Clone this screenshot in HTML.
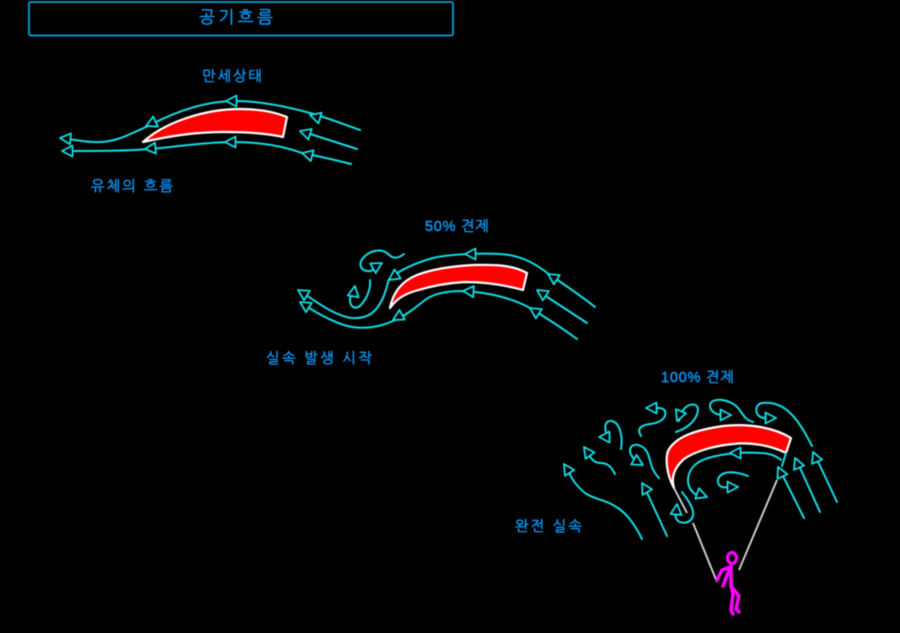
<!DOCTYPE html>
<html><head><meta charset="utf-8"><style>
html,body{margin:0;padding:0;background:#000;width:900px;height:633px;overflow:hidden}
svg{display:block;filter:blur(.4px)}
text{font-family:"Liberation Sans","NanumGothic","Noto Sans CJK KR",sans-serif;fill:#0c9cff;stroke:#0c9cff;stroke-width:.4px;font-size:14.5px}
.s{fill:none;stroke:#14dce4;stroke-width:2;stroke-linecap:round;stroke-linejoin:round}
.w{fill:#f00;stroke:#fff;stroke-width:2.2;stroke-linejoin:round}
.g{fill:none;stroke:#d8d8d8;stroke-width:1.8}
.p{fill:none;stroke:#f0f;stroke-width:3.5;stroke-linecap:round;stroke-linejoin:round}
.a{fill:#000;stroke:#14dce4;stroke-width:1.8;stroke-linejoin:round}
</style></head><body>
<svg width="900" height="633" viewBox="0 0 900 633" xmlns="http://www.w3.org/2000/svg">
<defs><polygon id="a" class="a" points="0,0 -10.5,-5.5 -10.5,5.5"/></defs>
<rect x="29" y="2" width="424" height="33.5" rx="2" fill="none" stroke="#0aa0d8" stroke-width="1.8"/>
<text x="199" y="23" textLength="74" lengthAdjust="spacing" style="font-size:17px">공기흐름</text>
<text x="202" y="81" textLength="60" lengthAdjust="spacing">만세상태</text>
<text x="91" y="191" textLength="82" lengthAdjust="spacing">유체의 흐름</text>
<text x="425" y="231" textLength="64" lengthAdjust="spacing">50% 견제</text>
<text x="266" y="363" textLength="106" lengthAdjust="spacing">실속 발생 시작</text>
<text x="661" y="382" textLength="73" lengthAdjust="spacing">100% 견제</text>
<text x="515" y="531" textLength="67" lengthAdjust="spacing">완전 실속</text>

<!-- diagram 1 -->
<path class="w" d="M143,142 C165,122 205,109 240,109 C258,109 275,112 287,117 L283,137 C265,133 245,132 225,132 C195,132 170,136 143,142 Z"/>
<path class="s" d="M360,130 C340,123 325,117 310,113 C285,106 260,101 235,101 C205,101 175,112 150,125 C125,137 112,143 95,142 C85,142 75,140 63,138"/>
<path class="s" d="M351,164 C335,160 318,156 302,153 C280,145 255,142 233,142 C205,142 175,147 150,149 C125,151 95,151 64,151"/>
<path class="s" d="M357,149 L301,131"/>
<use href="#a" transform="translate(300,131) rotate(198)"/>
<use href="#a" transform="translate(310,115) rotate(197)"/>
<use href="#a" transform="translate(302,153) rotate(195)"/>
<use href="#a" transform="translate(226,101) rotate(180)"/>
<use href="#a" transform="translate(225,142) rotate(180)"/>
<use href="#a" transform="translate(146,126) rotate(155)"/>
<use href="#a" transform="translate(145,149) rotate(175)"/>
<use href="#a" transform="translate(60,138) rotate(185)"/>
<use href="#a" transform="translate(62,151) rotate(180)"/>

<!-- diagram 2 -->
<path class="w" d="M390,308 C393,292 402,281 417,275 C435,268 465,264 490,265 C505,265 518,268 527,273 L523,290 C505,285 485,282 465,282 C445,283 428,287 415,291 C402,295 396,300 390,308 Z"/>
<path class="s" d="M595,307 C580,295 565,285 550,275 C535,263 520,255 500,254 C480,253 450,254 433,258 C415,263 400,270 389,279 C387,285 386,292 382,300 C376,312 368,319 352,318 C335,316 315,301 300,291"/>
<path class="s" d="M577,339 C562,328 545,317 530,308 C510,297 485,292 463,291 C445,291 433,294 425,300 C415,308 405,316 393,321 C380,327 365,329 352,327 C335,324 315,312 301,303"/>
<path class="s" d="M587,323 L538,291"/>
<path class="s" d="M404,254 C396,260 392,258 387,253 C380,248 370,251 364,257 C358,263 360,270 367,271 C372,272 376,268 381,264"/>
<path class="s" d="M370,280 C371,290 366,300 360,306 C354,310 350,306 350,300 C350,295 352,291 354,287"/>
<use href="#a" transform="translate(548,274) rotate(213)"/>
<use href="#a" transform="translate(537,290) rotate(213)"/>
<use href="#a" transform="translate(530,308) rotate(213)"/>
<use href="#a" transform="translate(465,254) rotate(180)"/>
<use href="#a" transform="translate(463,291) rotate(183)"/>
<use href="#a" transform="translate(389,280) rotate(145)"/>
<use href="#a" transform="translate(393,320) rotate(150)"/>
<use href="#a" transform="translate(298,290) rotate(212)"/>
<use href="#a" transform="translate(300,302) rotate(212)"/>
<use href="#a" transform="translate(382,263) rotate(-30)"/>
<use href="#a" transform="translate(355,286) rotate(-80)"/>

<!-- diagram 3 -->
<path class="w" d="M674,488 C667,475 665,460 668,451 C675,437 695,430 723,426 C750,423 775,428 791,438 L786,453 C770,445 750,442 733,444 C712,446 694,452 684,459 C674,468 671,478 674,488 Z"/>
<path class="g" d="M674,488 L687,513 M693,523 L717,582 M777,480 L739,570"/>
<path class="s" d="M786,453 L782,466"/>
<path class="s" d="M642,539 C635,525 628,515 618,508 C605,499 595,500 585,493 C575,485 570,476 566,466"/>
<path class="s" d="M667,536 L643,484"/>
<path class="s" d="M615,474 C611,466 607,463 600,463 C592,463 589,455 586,448"/>
<path class="s" d="M621,449 C623,437 620,423 612,421 C606,420 604,426 606,432"/>
<path class="s" d="M641,436 C636,428 642,425 650,424 C660,423 667,418 665,411 C663,407 657,408 648,408"/>
<path class="s" d="M659,478 C651,470 651,462 648,454 C645,446 637,443 632,446 C627,451 632,459 640,463"/>
<path class="s" d="M676,432 C688,428 697,420 698,410 C698,403 690,403 685,408 C681,412 680,417 679,421"/>
<path class="s" d="M753,422 C745,420 743,414 738,408 C732,401 720,398 713,401 C706,405 712,415 722,415 L731,415"/>
<path class="s" d="M812,446 C805,432 798,420 790,413 C782,405 772,402 762,403 C753,405 755,418 765,418 L776,418"/>
<path class="s" d="M837,502 L814,453"/>
<path class="s" d="M820,512 L796,459"/>
<path class="s" d="M804,518 L779,468"/>
<path class="s" d="M781,460 C775,455 768,453 760,453 C745,452 725,453 708,458 C695,462 688,470 688,480 C688,486 690,490 695,494"/>
<path class="s" d="M748,476 C740,473 732,471 725,473 C716,476 716,485 722,487 C727,488 732,487 738,487"/>
<path class="s" d="M682,492 C688,500 694,508 693,515 C692,523 682,525 677,520 C674,515 675,510 677,505"/>
<use href="#a" transform="translate(564,464) rotate(-122)"/>
<use href="#a" transform="translate(642,483) rotate(-120)"/>
<use href="#a" transform="translate(584,447) rotate(-125)"/>
<use href="#a" transform="translate(599,437) rotate(180)"/>
<use href="#a" transform="translate(646,408) rotate(180)"/>
<use href="#a" transform="translate(643,465) rotate(30)"/>
<use href="#a" transform="translate(677,421) rotate(112)"/>
<use href="#a" transform="translate(731,415) rotate(0)"/>
<use href="#a" transform="translate(776,418) rotate(0)"/>
<use href="#a" transform="translate(813,452) rotate(-113)"/>
<use href="#a" transform="translate(795,458) rotate(-113)"/>
<use href="#a" transform="translate(778,467) rotate(-115)"/>
<use href="#a" transform="translate(730,453) rotate(180)"/>
<use href="#a" transform="translate(707,497) rotate(20)"/>
<use href="#a" transform="translate(738,487) rotate(0)"/>
<use href="#a" transform="translate(677,504) rotate(-85)"/>

<!-- person -->
<ellipse cx="732" cy="558" rx="4.5" ry="5.5" fill="none" stroke="#f0f" stroke-width="3.2"/>
<path class="p" d="M731,566 L731,586 L739,596 L736,609 L739,612"/>
<path class="p" d="M731,586 L733,594 L731,610 L733,614"/>
<path class="p" d="M730,567 L722,570 L717,580"/>
<path class="p" d="M729,570 L723,586"/>
</svg>
</body></html>
